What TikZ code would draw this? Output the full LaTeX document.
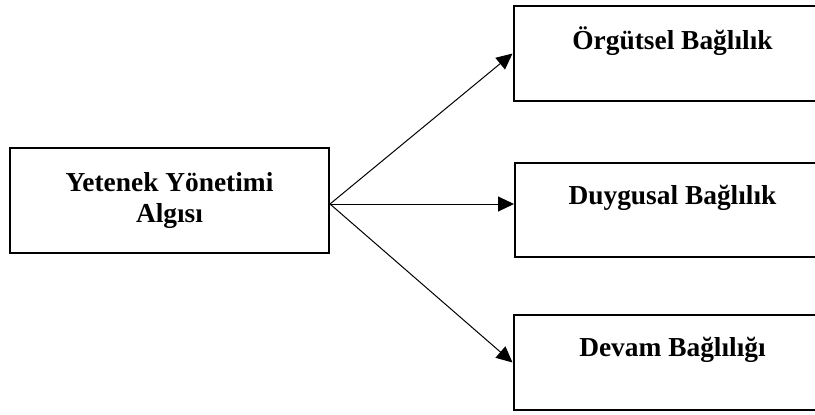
\documentclass[tikz,border=0pt]{standalone}
\usepackage{fontspec}
\setmainfont{Liberation Serif}
\usetikzlibrary{
    positioning,
    arrows.meta
}
\tikzset{
    >=Stealth,
    kutu/.style={
        draw,
        line width=1pt,
        rectangle,
        align=center,
        inner sep=0pt,
        font=\fontsize{13.7pt}{15.5pt}\selectfont\bfseries
    },
    ok/.style={
        -{Triangle[length=8pt,width=7.5pt]},
        line width=0.5pt
    }
}
\begin{document}
\begin{tikzpicture}[
    x=0.5pt,
    y=-0.5pt,
    on grid
]
    \useasboundingbox (0,0) rectangle (815,414);

    % Kutular
    \node[kutu, minimum width=159.5pt, minimum height=52.5pt] (yon) at (169.5,200.5)
        {Yetenek Yönetimi\\Algısı};
    \node[kutu, minimum width=157.5pt, minimum height=47pt] (duygu)
        [below right=4.75pt and 251.5pt of yon] {Duygusal Bağlılık\\\mbox{}};
    \node[kutu, minimum width=159pt, minimum height=47.5pt] (orgut)
        [above=78.25pt of duygu] {Örgütsel Bağlılık\\\mbox{}};
    \node[kutu, minimum width=159pt, minimum height=47.5pt] (devam)
        [below=76.25pt of duygu] {Devam Bağlılığı\\\mbox{}};

    % Oklar
    \coordinate (kaynak) at (330,204);
    \draw[ok] (kaynak) -- (orgut.west);
    \draw[ok] (kaynak) -- ([yshift=3pt]duygu.west);
    \draw[ok] (kaynak) -- (devam.west);

\end{tikzpicture}
\end{document}
